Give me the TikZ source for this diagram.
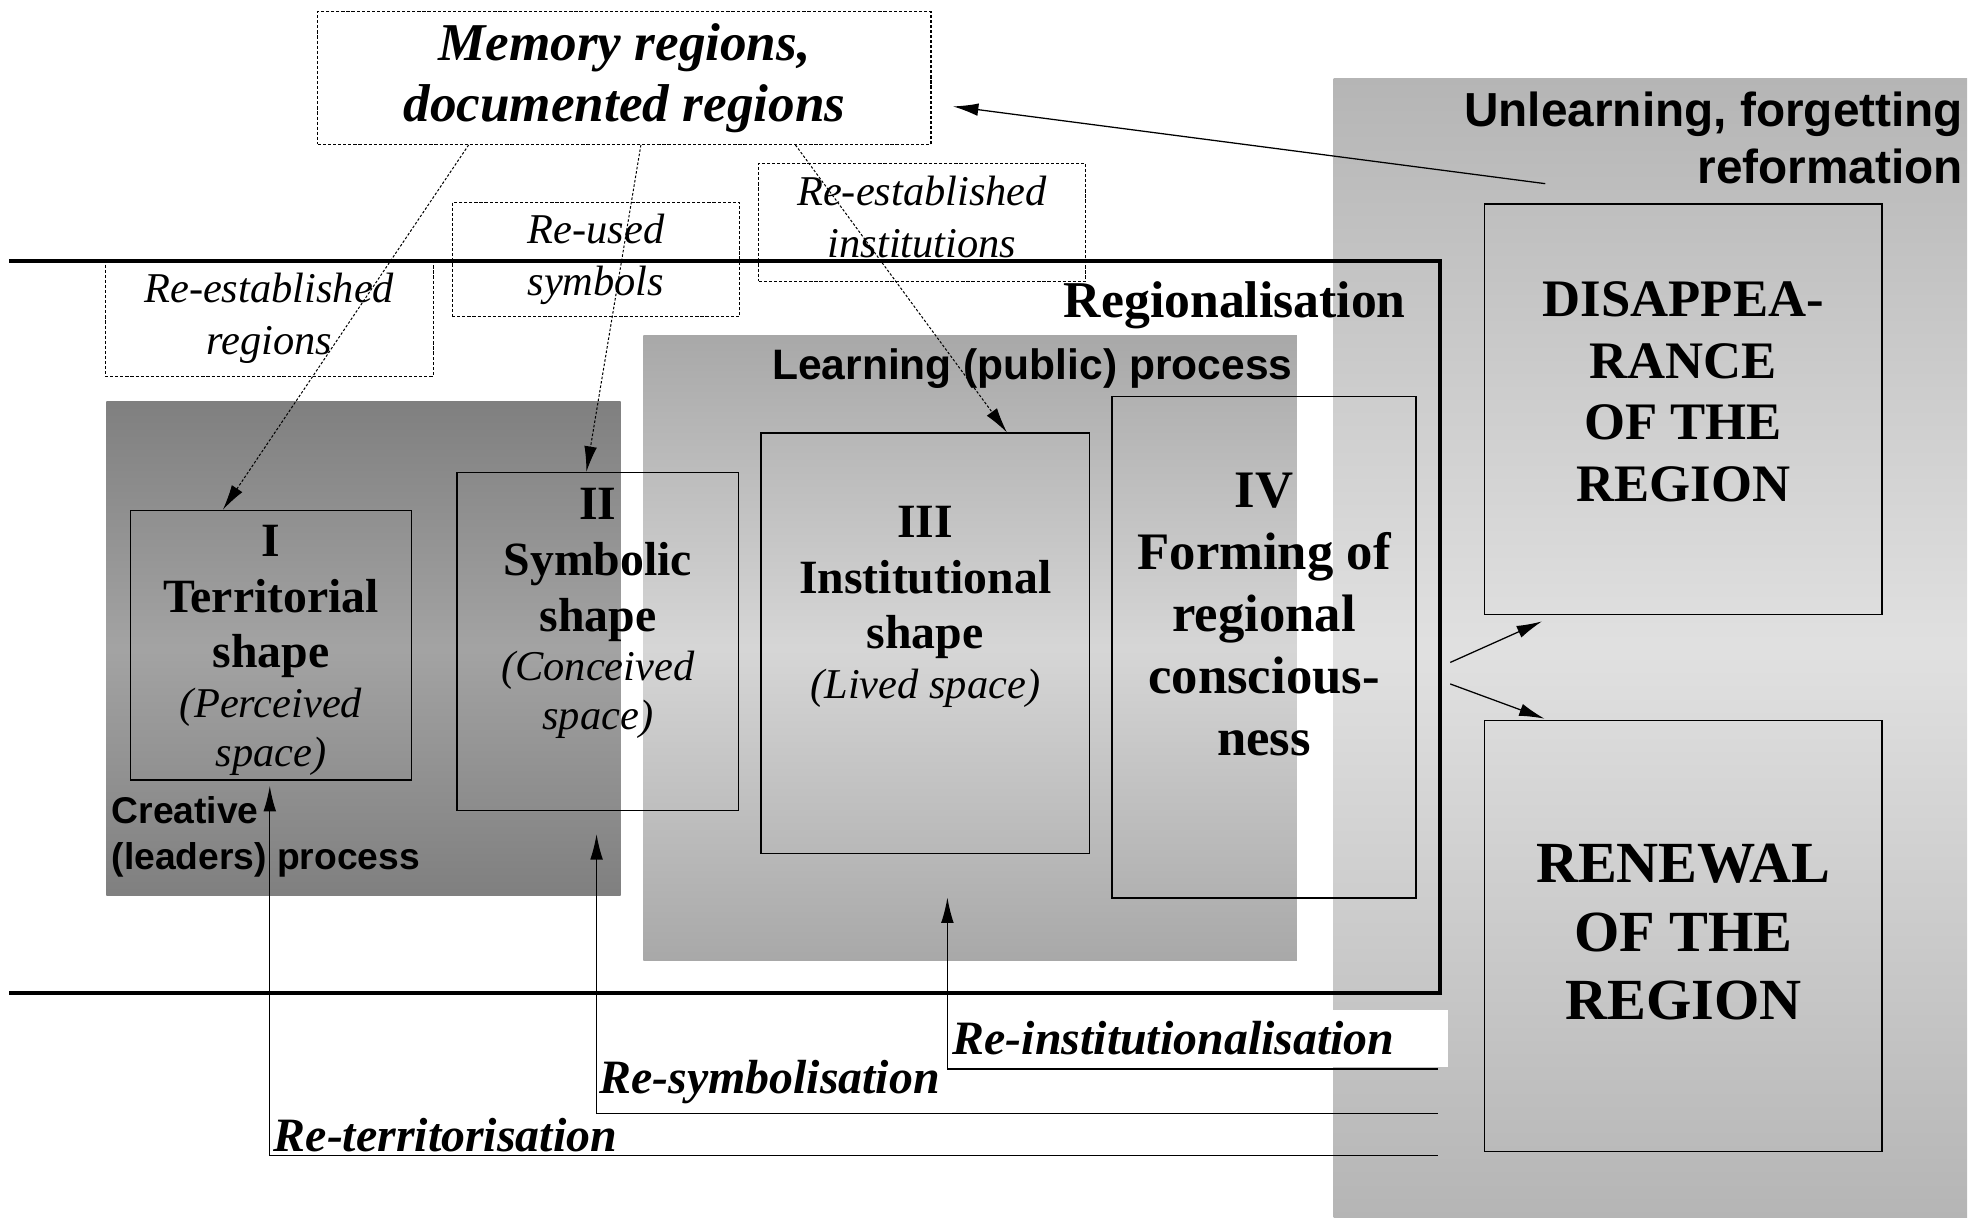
\documentclass[tikz,border=0pt]{standalone}
\usepackage{fontspec}
\setmainfont{Liberation Serif}
\setsansfont{Liberation Sans}
\usetikzlibrary{arrows.meta, positioning, calc}
\definecolor{creativeout}{gray}{0.50}
\definecolor{creativemid}{gray}{0.64}
\definecolor{learnout}{gray}{0.66}
\definecolor{learnmid}{gray}{0.84}
\definecolor{unlearnout}{gray}{0.71}
\definecolor{unlearnmid}{gray}{0.88}
\newcommand{\shapefont}{\fontsize{37.7}{44}\selectfont\bfseries}
\newcommand{\bigshapefont}{\fontsize{41.6}{49}\selectfont\bfseries}
\newcommand{\spacefont}{\fontsize{33.5}{40}\selectfont\mdseries\itshape}

\begin{document}
\begin{tikzpicture}[x=1pt, y=-1pt,
	shapebox/.style={draw, line width=1.2pt, inner sep=0pt},
	shapetext/.style={align=center, inner sep=0pt, font=\shapefont},
	memobox/.style={draw, line width=0.9pt, dash pattern=on 2.5pt off 1.5pt, align=center, inner sep=0pt, font=\fontsize{33.5}{41}\selectfont\itshape},
	memoarrow/.style={-{Latex[length=20pt,width=10pt]}, line width=0.8pt, dash pattern=on 2pt off 1.5pt},
	flow/.style={-{Latex[length=20pt,width=10pt]}, line width=1pt},
	relabel/.style={inner sep=0pt, font=\fontsize{37.8}{40}\selectfont\bfseries\itshape},
	procsans/.style={inner sep=0pt}]
	\useasboundingbox (0,0) rectangle (1568,961);
		% process areas
		\shade[top color=unlearnout, bottom color=unlearnout, middle color=unlearnmid] (1053,62) rectangle (1553,961);
		\shade[top color=creativeout, bottom color=creativeout, middle color=creativemid] (84,317) rectangle (490,707);
		\shade[top color=learnout, bottom color=learnout, middle color=learnmid] (508,265) rectangle (1024,758);
		\draw[line width=3.5pt] (7,206) -| (1137,784) -- (7,784); % regionalisation frame

		\node[inner sep=0pt, font=\fontsize{40.8}{48}\selectfont\bfseries, anchor=base east] (regional) at (1110,251) {Regionalisation};
		\node[procsans, font=\sffamily\bfseries\fontsize{33.6}{38}\selectfont, anchor=base] (learning) at (815,300) {Learning (public) process};
		\node[procsans, font=\sffamily\bfseries\fontsize{29.4}{36}\selectfont, align=left, anchor=north west] (creative) at (88,629) {Creative\\(leaders) process};
		\node[procsans, font=\sffamily\bfseries\fontsize{37.7}{45}\selectfont, align=right, anchor=north east] (unlearn) at (1550,72) {Unlearning, forgetting\\reformation};

		% the four shapes and the two outcomes
		\node[shapebox, minimum width=222pt, minimum height=213pt] (shapeI) at (214,509.5) {};
		\node[shapebox, minimum width=222pt, minimum height=267pt] (shapeII) at (472,506.5) {};
		\node[shapebox, minimum width=259pt, minimum height=332pt] (shapeIII) at (730.5,508) {};
		\node[shapebox, minimum width=240pt, minimum height=396pt] (shapeIV) at (998,511) {};
		\node[shapebox, minimum width=314pt, minimum height=324pt] (disapp) at (1329,323) {};
		\node[shapebox, minimum width=314pt, minimum height=340pt] (renewal) at (1329,739) {};

		\node[shapetext, below=12pt of shapeI.north] (textI) {I\\Territorial\\shape\\[-5pt]{\spacefont (Perceived}\\[-5pt]{\spacefont space)}};
		\node[shapetext, below=13pt of shapeII.north] (textII) {II\\Symbolic\\shape\\[-5pt]{\spacefont (Conceived}\\[-5pt]{\spacefont space)}};
		\node[shapetext, below=58pt of shapeIII.north] (textIII) {III\\Institutional\\shape\\[-5pt]{\spacefont (Lived space)}};
		\node[shapetext, font=\bigshapefont, below=61pt of shapeIV.north] (textIV) {IV\\Forming of\\regional\\conscious-\\ness};
		\node[shapetext, font=\fontsize{41.6}{48.5}\selectfont\bfseries, below=62pt of disapp.north] (textDis) {DISAPPEA-\\RANCE\\OF THE\\REGION};
		\node[shapetext, font=\fontsize{46}{54}\selectfont\bfseries, below=98pt of renewal.north] (textRen) {RENEWAL\\OF THE\\REGION};

		% memory and what is taken from it
		\node[memobox, font=\fontsize{42}{48}\selectfont\bfseries\itshape, minimum width=484pt, minimum height=105pt] (memory) at (493,61.5) {Memory regions,\\documented regions};
		\node[memobox, minimum width=259pt, minimum height=91pt] (reRegions) at (212.5,251.5) {Re-established\\regions};
		\node[memobox, minimum width=227pt, minimum height=90pt] (reSymbols) at (470.5,205) {Re-used\\symbols};
		\node[memobox, minimum width=258pt, minimum height=93pt, text depth=8pt] (reInst) at (728,175.5) {Re-established\\institutions};
		\draw[memoarrow] ([xshift=-123pt]memory.south) -- ([xshift=-38pt]shapeI.north);
		\draw[memoarrow] ([xshift=13pt]memory.south) -- ([xshift=-9pt]shapeII.north);
		\draw[memoarrow] ([xshift=135pt]memory.south) -- ([xshift=64.5pt]shapeIII.north);

		\coordinate (forget) at (1220,145);
		\draw[flow] (forget) -- ([xshift=17pt,yshift=-22.5pt]memory.east);
		\coordinate (outA) at (1145,523);
		\coordinate (outB) at (1145,540);
		\draw[flow] (outA) -- ([xshift=46pt,yshift=-5pt]disapp.south west);
		\draw[flow] (outB) -- ([xshift=48pt,yshift=1pt]renewal.north west);

		% re-processes
		\node[relabel, fill=white, anchor=north west, minimum width=395pt, minimum height=45pt, text width=387pt, inner xsep=4pt, align=left] (reInstLbl) at (748,797) {Re-institutionalisation};
		\node[relabel, anchor=base west] (reSymbLbl) at (473,863) {Re-symbolisation};
		\node[relabel, anchor=base west] (reTerrLbl) at (216,909) {Re-territorisation};
		\coordinate (instEnd) at (1135,844);
		\coordinate (symbEnd) at (1135,879);
		\coordinate (terrEnd) at (1135,912);
		\draw[flow, shorten >=34pt] (instEnd) -| ([xshift=17.5pt]shapeIII.south);
		\draw[flow, shorten >=18pt] (symbEnd) -| ([xshift=-1pt]shapeII.south);
		\draw[flow, shorten >=4pt] (terrEnd) -| ([xshift=-1pt]shapeI.south);
	\end{tikzpicture}
\end{document}
